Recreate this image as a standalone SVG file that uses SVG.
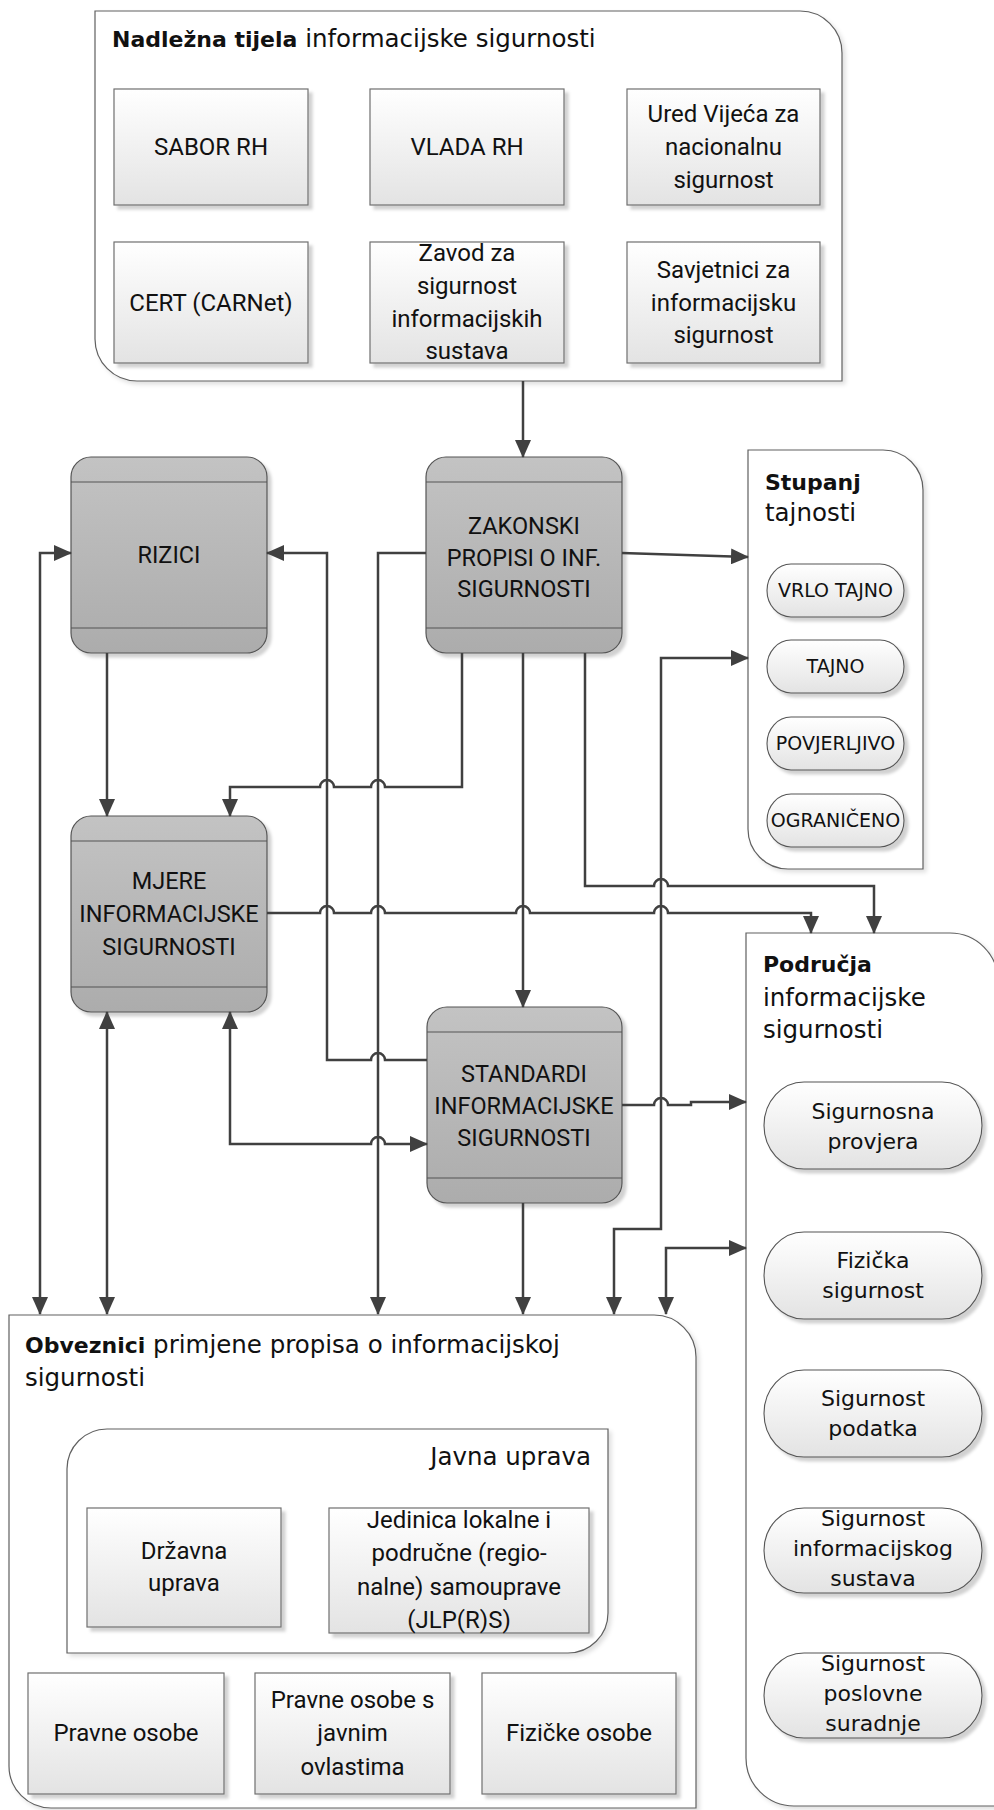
<svg xmlns="http://www.w3.org/2000/svg" width="994" height="1810" viewBox="0 0 994 1810">
<defs>
<linearGradient id="gLight" x1="0" y1="0" x2="0" y2="1"><stop offset="0" stop-color="#ffffff"/><stop offset="1" stop-color="#e3e3e3"/></linearGradient>
<linearGradient id="gGray" x1="0" y1="0" x2="0" y2="1"><stop offset="0" stop-color="#c3c3c3"/><stop offset="1" stop-color="#acacac"/></linearGradient>
<filter id="sh" x="-10%" y="-10%" width="125%" height="125%"><feDropShadow dx="4" dy="4" stdDeviation="1.5" flood-color="#000" flood-opacity="0.18"/></filter>
<filter id="shc" x="-5%" y="-5%" width="112%" height="112%"><feDropShadow dx="3" dy="3" stdDeviation="2" flood-color="#000" flood-opacity="0.12"/></filter>
<marker id="ah" viewBox="0 0 18 16" refX="17" refY="8" markerWidth="18" markerHeight="16" markerUnits="userSpaceOnUse" orient="auto-start-reverse"><path d="M0,0 L18,8 L0,16 z" fill="#404040"/></marker>
</defs>
<style>
.cont{fill:#ffffff;stroke:#606060;stroke-width:1.2;filter:url(#shc)}
.lb{fill:url(#gLight);stroke:#707070;stroke-width:1.2;filter:url(#sh)}
.gb{fill:url(#gGray);stroke:#555555;stroke-width:1.2;filter:url(#sh)}
.band{stroke:#555555;stroke-width:1.2;fill:none}
.pill{fill:url(#gLight);stroke:#555555;stroke-width:1.1;filter:url(#sh)}
.bx{font-family:Roboto,"Liberation Sans",sans-serif;font-size:24px;fill:#111;text-anchor:middle}
.gx{font-family:Roboto,"Liberation Sans",sans-serif;font-size:23.5px;fill:#111;text-anchor:middle}
.tt{font-family:"DejaVu Sans",sans-serif;font-size:24.5px;fill:#111}
.tb{font-weight:bold;font-size:22px}
.pl{font-family:"DejaVu Sans",sans-serif;font-size:22px;fill:#111;text-anchor:middle}
.ps{font-family:"DejaVu Sans",sans-serif;font-size:19px;fill:#111;text-anchor:middle}
.cn{fill:none;stroke:#404040;stroke-width:2.5}
</style>
<rect width="994" height="1810" fill="#ffffff"/>

<!-- Containers -->
<g id="nadlezna-tijela">
<path class="cont" d="M95,11 H800 A42,42 0 0 1 842,53 V381 H137 A42,42 0 0 1 95,339 Z"/>
<text class="tt" x="112" y="47"><tspan class="tb" font-size="21px">Nadležna tijela</tspan><tspan font-size="24.5px"> informacijske sigurnosti</tspan></text>
</g>
<g id="stupanj-tajnosti">
<path class="cont" d="M748,450 H883 A40,40 0 0 1 923,490 V869 H788 A40,40 0 0 1 748,829 Z"/>
<text class="tt" x="765" y="490"><tspan class="tb">Stupanj</tspan></text>
<text class="tt" x="765" y="521">tajnosti</text>
</g>
<g id="podrucja">
<path class="cont" d="M746,933 H950 A48,48 0 0 1 998,981 V1806 H794 A48,48 0 0 1 746,1758 Z"/>
<text class="tt" x="763" y="972"><tspan class="tb">Područja</tspan></text>
<text class="tt" x="763" y="1006">informacijske</text>
<text class="tt" x="763" y="1038">sigurnosti</text>
</g>
<g id="obveznici">
<path class="cont" d="M9,1315 H654 A42,42 0 0 1 696,1357 V1808 H51 A42,42 0 0 1 9,1766 Z"/>
<text class="tt" x="25" y="1353"><tspan class="tb">Obveznici</tspan> primjene propisa o informacijskoj</text>
<text class="tt" x="25" y="1386">sigurnosti</text>
</g>
<g id="javna-uprava">
<path class="cont" d="M107,1429 H608 V1613 A40,40 0 0 1 568,1653 H67 V1469 A40,40 0 0 1 107,1429 Z"/>
<text class="tt" x="591" y="1465" text-anchor="end">Javna uprava</text>
</g>

<!-- Nadležna tijela nodes -->
<g id="sabor"><rect class="lb" x="114" y="89" width="194" height="116"/><text class="bx" x="211" y="155">SABOR RH</text></g>
<g id="vlada"><rect class="lb" x="370" y="89" width="194" height="116"/><text class="bx" x="467" y="155">VLADA RH</text></g>
<g id="ured"><rect class="lb" x="627" y="89" width="193" height="116"/><text class="bx" x="723.5" y="122">Ured Vijeća za</text><text class="bx" x="723.5" y="155">nacionalnu</text><text class="bx" x="723.5" y="188">sigurnost</text></g>
<g id="cert"><rect class="lb" x="114" y="242" width="194" height="121"/><text class="bx" x="211" y="311">CERT (CARNet)</text></g>
<g id="zavod"><rect class="lb" x="370" y="242" width="194" height="121"/><text class="bx" x="467" y="261">Zavod za</text><text class="bx" x="467" y="294">sigurnost</text><text class="bx" x="467" y="327">informacijskih</text><text class="bx" x="467" y="359">sustava</text></g>
<g id="savjetnici"><rect class="lb" x="627" y="242" width="193" height="121"/><text class="bx" x="723.5" y="278">Savjetnici za</text><text class="bx" x="723.5" y="311">informacijsku</text><text class="bx" x="723.5" y="343">sigurnost</text></g>

<!-- Gray process nodes -->
<g id="rizici"><rect class="gb" x="71" y="457" width="196" height="196" rx="20" ry="20"/><line class="band" x1="71" y1="482" x2="267" y2="482"/><line class="band" x1="71" y1="628" x2="267" y2="628"/><text class="gx" x="169" y="563">RIZICI</text></g>
<g id="zakonski"><rect class="gb" x="426" y="457" width="196" height="196" rx="20" ry="20"/><line class="band" x1="426" y1="482" x2="622" y2="482"/><line class="band" x1="426" y1="628" x2="622" y2="628"/><text class="gx" x="524" y="534">ZAKONSKI</text><text class="gx" x="524" y="566">PROPISI O INF.</text><text class="gx" x="524" y="597">SIGURNOSTI</text></g>
<g id="mjere"><rect class="gb" x="71" y="816" width="196" height="196" rx="20" ry="20"/><line class="band" x1="71" y1="841" x2="267" y2="841"/><line class="band" x1="71" y1="987" x2="267" y2="987"/><text class="gx" x="169" y="889">MJERE</text><text class="gx" x="169" y="922">INFORMACIJSKE</text><text class="gx" x="169" y="955">SIGURNOSTI</text></g>
<g id="standardi"><rect class="gb" x="427" y="1007" width="195" height="196" rx="20" ry="20"/><line class="band" x1="427" y1="1032" x2="622" y2="1032"/><line class="band" x1="427" y1="1178" x2="622" y2="1178"/><text class="gx" x="524" y="1082">STANDARDI</text><text class="gx" x="524" y="1114">INFORMACIJSKE</text><text class="gx" x="524" y="1146">SIGURNOSTI</text></g>

<!-- Stupanj tajnosti pills -->
<g id="vrlo-tajno"><rect class="pill" x="767" y="564" width="137" height="53" rx="24" ry="26.5"/><text class="ps" x="835.5" y="597">VRLO TAJNO</text></g>
<g id="tajno"><rect class="pill" x="767" y="640" width="137" height="53" rx="24" ry="26.5"/><text class="ps" x="835.5" y="673">TAJNO</text></g>
<g id="povjerljivo"><rect class="pill" x="767" y="717" width="137" height="53" rx="24" ry="26.5"/><text class="ps" x="835.5" y="750">POVJERLJIVO</text></g>
<g id="ograniceno"><rect class="pill" x="767" y="794" width="137" height="53" rx="24" ry="26.5"/><text class="ps" x="835.5" y="827">OGRANIČENO</text></g>

<!-- Područja pills -->
<g id="sigurnosna-provjera"><rect class="pill" x="764" y="1082" width="218" height="87" rx="40" ry="43.5"/><text class="pl" x="873" y="1119">Sigurnosna</text><text class="pl" x="873" y="1149">provjera</text></g>
<g id="fizicka-sigurnost"><rect class="pill" x="764" y="1232" width="218" height="87" rx="40" ry="43.5"/><text class="pl" x="873" y="1268">Fizička</text><text class="pl" x="873" y="1298">sigurnost</text></g>
<g id="sigurnost-podatka"><rect class="pill" x="764" y="1370" width="218" height="87" rx="40" ry="43.5"/><text class="pl" x="873" y="1406">Sigurnost</text><text class="pl" x="873" y="1436">podatka</text></g>
<g id="sigurnost-is"><rect class="pill" x="764" y="1508" width="218" height="85" rx="40" ry="42.5"/><text class="pl" x="873" y="1526">Sigurnost</text><text class="pl" x="873" y="1556">informacijskog</text><text class="pl" x="873" y="1586">sustava</text></g>
<g id="sigurnost-ps"><rect class="pill" x="764" y="1653" width="218" height="85" rx="40" ry="42.5"/><text class="pl" x="873" y="1671">Sigurnost</text><text class="pl" x="873" y="1701">poslovne</text><text class="pl" x="873" y="1731">suradnje</text></g>

<!-- Obveznici nodes -->
<g id="drzavna-uprava"><rect class="lb" x="87" y="1508" width="194" height="119"/><text class="bx" x="184" y="1559">Državna</text><text class="bx" x="184" y="1591">uprava</text></g>
<g id="jlprs"><rect class="lb" x="329" y="1508" width="260" height="125"/><text class="bx" x="459" y="1528">Jedinica lokalne i</text><text class="bx" x="459" y="1561">područne (regio-</text><text class="bx" x="459" y="1595">nalne) samouprave</text><text class="bx" x="459" y="1628">(JLP(R)S)</text></g>
<g id="pravne-osobe"><rect class="lb" x="28" y="1673" width="196" height="121"/><text class="bx" x="126" y="1741">Pravne osobe</text></g>
<g id="pravne-osobe-jo"><rect class="lb" x="255" y="1673" width="195" height="121"/><text class="bx" x="352.5" y="1708">Pravne osobe s</text><text class="bx" x="352.5" y="1741">javnim</text><text class="bx" x="352.5" y="1775">ovlastima</text></g>
<g id="fizicke-osobe"><rect class="lb" x="482" y="1673" width="194" height="121"/><text class="bx" x="579" y="1741">Fizičke osobe</text></g>

<!-- Connectors -->
<g id="connectors">
<path class="cn" marker-end="url(#ah)" d="M523,381 V457"/>
<path class="cn" marker-start="url(#ah)" marker-end="url(#ah)" d="M71,553 H40 V1314"/>
<path class="cn" marker-end="url(#ah)" d="M426,553 H378 V1314"/>
<path class="cn" marker-end="url(#ah)" d="M427,1060 H385 A7,7 0 0 0 371,1060 H327 V553 H267"/>
<path class="cn" marker-end="url(#ah)" d="M107,653 V816"/>
<path class="cn" marker-end="url(#ah)" d="M462,653 V787 H385 A7,7 0 0 0 371,787 H334 A7,7 0 0 0 320,787 H230 V816"/>
<path class="cn" marker-end="url(#ah)" d="M523,653 V1007"/>
<path class="cn" marker-end="url(#ah)" d="M585,653 V886 H654 A7,7 0 0 1 668,886 H874 V933"/>
<path class="cn" marker-end="url(#ah)" d="M622,553 L748,557"/>
<path class="cn" marker-end="url(#ah)" d="M267,913 H320 A7,7 0 0 1 334,913 H371 A7,7 0 0 1 385,913 H516 A7,7 0 0 1 530,913 H654 A7,7 0 0 1 668,913 H811 V933"/>
<path class="cn" marker-start="url(#ah)" marker-end="url(#ah)" d="M107,1012 V1314"/>
<path class="cn" marker-start="url(#ah)" marker-end="url(#ah)" d="M230,1012 V1144 H371 A7,7 0 0 1 385,1144 H427"/>
<path class="cn" marker-end="url(#ah)" d="M622,1105 H654 A7,7 0 0 1 668,1105 H691 V1102 H746"/>
<path class="cn" marker-end="url(#ah)" d="M523,1203 V1314"/>
<path class="cn" marker-start="url(#ah)" marker-end="url(#ah)" d="M748,658 H661 V1229 H614 V1314"/>
<path class="cn" marker-start="url(#ah)" marker-end="url(#ah)" d="M746,1248 H666 V1314"/>
</g>
</svg>
